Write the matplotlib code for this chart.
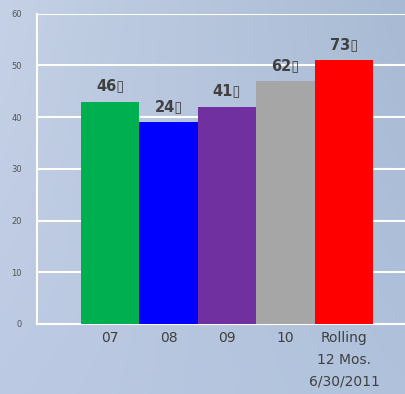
import numpy as np
import matplotlib.pyplot as plt

# data
categories = ["07", "08", "09", "10", "Rolling\n12 Mos.\n6/30/2011"]
values = [43, 39, 42, 47, 51]
value_labels = ["46\u25AF", "24\u25AF", "41\u25AF", "62\u25AF", "73\u25AF"]
bar_colors = ["#00b050", "#0000ff", "#7030a0", "#a6a6a6", "#ff0000"]
yticks = [0, 10, 20, 30, 40, 50, 60]

fig = plt.figure(figsize=(4.06, 3.94), dpi=100)

# soft blue-gray background, lighter on the left, darker to the right
bg = fig.add_axes([0, 0, 1, 1], zorder=0)
gy, gx = np.mgrid[0:1:200j, 0:1:200j]
tl = np.array([0.77, 0.82, 0.90])
tr = np.array([0.66, 0.73, 0.83])
bl = np.array([0.74, 0.79, 0.89])
br = np.array([0.69, 0.76, 0.86])
gx3, gy3 = gx[..., None], gy[..., None]
img = (tl * (1 - gx3) * (1 - gy3) + tr * gx3 * (1 - gy3)
       + bl * (1 - gx3) * gy3 + br * gx3 * gy3)
bg.imshow(img, aspect="auto", extent=[0, 1, 0, 1], origin="upper")
bg.axis("off")

ax = fig.add_axes([0.091, 0.178, 0.909, 0.787], zorder=1)
ax.patch.set_alpha(0)

x = np.arange(len(categories))
ax.bar(x, values, width=1.0, color=bar_colors, zorder=3)

for xi, v, lab in zip(x, values, value_labels):
    ax.text(xi, v + 1.6, lab, ha="center", va="bottom", fontsize=10.5,
            fontweight="bold", color="#404040", zorder=4)

ax.set_ylim(0, 60)
ax.set_xlim(-1.25, 5.06)
ax.set_yticks(yticks)
ax.tick_params(axis="y", length=0, labelsize=6, labelcolor="#555555", pad=11)
ax.yaxis.grid(True, color="white", linewidth=1.5, zorder=1)
ax.set_axisbelow(True)

ax.set_xticks(x)
ax.set_xticklabels(categories, fontsize=10, color="#404040", linespacing=1.7)
ax.tick_params(axis="x", length=0, pad=5)

for s in ["top", "right"]:
    ax.spines[s].set_visible(False)
for s in ["left", "bottom"]:
    ax.spines[s].set_color("white")
    ax.spines[s].set_linewidth(1.5)

fig.savefig("out.png", dpi=100)
